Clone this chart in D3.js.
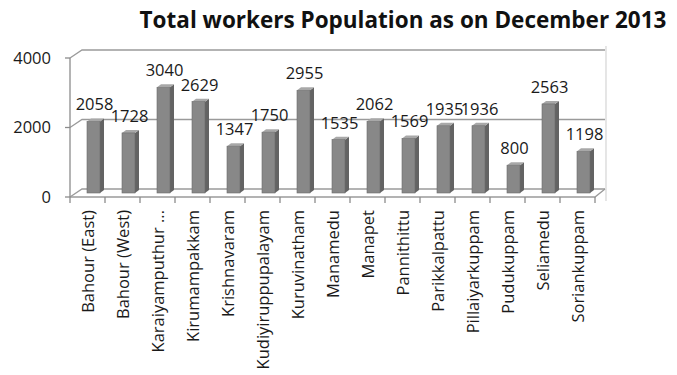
<!DOCTYPE html>
<html>
<head>
<meta charset="utf-8">
<script src="https://cdn.jsdelivr.net/npm/d3@7"></script>
<style>
  body { margin: 0; background: #fff; }
  svg { display: block; }
</style>
</head>
<body>
<svg width="677" height="375"></svg>
<script>
const villages = ["Bahour (East)", "Bahour (West)", "Karaiyamputhur ...", "Kirumampakkam", "Krishnavaram",
  "Kudiyiruppupalayam", "Kuruvinatham", "Manamedu", "Manapet", "Pannithittu", "Parikkalpattu",
  "Pillaiyarkuppam", "Pudukuppam", "Seliamedu", "Soriankuppam"];
const workers = [2058, 1728, 3040, 2629, 1347, 1750, 2955, 1535, 2062, 1569, 1935, 1936, 800, 2563, 1198];
const yTicks = [0, 2000, 4000];

const svg = d3.select("svg");
const font = "'Open Sans', sans-serif";

// 3d-ish offsets: back wall is shifted up/right from the front edge
const depth = {dx: 12, dy: -8};
const mid = {dx: 6, dy: -4};

const x = d3.scaleBand()
    .domain(villages)
    .range([70, 595]);

const yFront = d3.scaleLinear()
    .domain([0, 4000])
    .range([197, 58]);

const gridColor = "#9a9a9a";

// gridlines on left + back wall
const grid = svg.append("g").attr("fill", "none").attr("stroke", gridColor).attr("stroke-width", 1.3);
yTicks.forEach(t => {
  const y0 = yFront(t);
  grid.append("path")
      .attr("d", `M${x.range()[0]},${y0} L${x.range()[0] + depth.dx},${y0 + depth.dy} L${x.range()[1] + 10},${y0 + depth.dy}`);
});
// right wall edge
grid.append("line")
    .attr("x1", x.range()[1] + 11).attr("x2", x.range()[1] + 11)
    .attr("y1", yFront(4000) + depth.dy - 4).attr("y2", yFront(0) + 4)
    .attr("stroke", "#d8d8d8");
// floor front edge and right edge
grid.append("path")
    .attr("d", `M${x.range()[0]},${yFront(0)} L${x.range()[1]},${yFront(0)} L${x.range()[1] + depth.dx - 2},${yFront(0) + depth.dy}`);

// y axis
const axisG = svg.append("g").attr("stroke", "#8c8c8c").attr("stroke-width", 1.3);
axisG.append("line")
    .attr("x1", x.range()[0]).attr("x2", x.range()[0])
    .attr("y1", yFront(4000)).attr("y2", yFront(0));
yTicks.forEach(t => {
  axisG.append("line")
      .attr("x1", x.range()[0] - 5).attr("x2", x.range()[0])
      .attr("y1", yFront(t)).attr("y2", yFront(t));
});
// x ticks at band edges
const edges = villages.map(v => x(v)).concat([x.range()[1]]);
edges.forEach(e => {
  axisG.append("line")
      .attr("x1", e).attr("x2", e)
      .attr("y1", yFront(0)).attr("y2", yFront(0) + 6);
});

svg.append("g")
    .attr("font-family", font)
    .attr("font-size", 16.5)
    .attr("fill", "#1a1a1a")
    .attr("text-anchor", "end")
  .selectAll("text")
  .data(yTicks)
  .join("text")
    .attr("x", 51)
    .attr("y", d => yFront(d))
    .attr("dy", "0.35em")
    .text(d => d);

// bars (placed at mid depth)
const barW = 13, side = 4, lift = 3;
const bars = svg.append("g")
  .selectAll("g")
  .data(workers)
  .join("g")
    .attr("transform", (d, i) => `translate(${x(villages[i]) + x.bandwidth() / 2 + mid.dx - barW / 2},0)`);

bars.append("path") // side
    .attr("fill", "#636363")
    .attr("d", d => {
      const top = yFront(d) + mid.dy, bot = yFront(0) + mid.dy;
      return `M${barW},${top} L${barW + side},${top - lift} L${barW + side},${bot - lift} L${barW},${bot}Z`;
    });
bars.append("path") // top
    .attr("fill", "#a8a8a8")
    .attr("d", d => {
      const top = yFront(d) + mid.dy;
      return `M0,${top} L${side},${top - lift} L${barW + side},${top - lift} L${barW},${top}Z`;
    });
bars.append("rect") // front
    .attr("fill", "#888")
    .attr("stroke", "#6c6c6c")
    .attr("stroke-width", 0.6)
    .attr("x", 0)
    .attr("width", barW)
    .attr("y", d => yFront(d) + mid.dy)
    .attr("height", d => yFront(0) - yFront(d));

// value labels
svg.append("g")
    .attr("font-family", font)
    .attr("font-size", 16.5)
    .attr("fill", "#1a1a1a")
    .attr("text-anchor", "middle")
  .selectAll("text")
  .data(workers)
  .join("text")
    .attr("x", (d, i) => x(villages[i]) + x.bandwidth() / 2 + mid.dx + 1)
    .attr("y", d => yFront(d) + mid.dy - 11)
    .text(d => d);

// category labels, rotated
svg.append("g")
    .attr("font-family", font)
    .attr("font-size", 16.5)
    .attr("fill", "#1a1a1a")
    .attr("text-anchor", "end")
  .selectAll("text")
  .data(villages)
  .join("text")
    .attr("transform", d => `translate(${x(d) + x.bandwidth() / 2 + 6},${yFront(0) + 13}) rotate(-90)`)
    .text(d => d);

// title
svg.append("text")
    .attr("x", 403)
    .attr("y", 28)
    .attr("text-anchor", "middle")
    .attr("font-family", font)
    .attr("font-weight", "bold")
    .attr("font-size", 22.5)
    .attr("fill", "#111")
    .text("Total workers Population as on December 2013");
</script>
</body>
</html>
